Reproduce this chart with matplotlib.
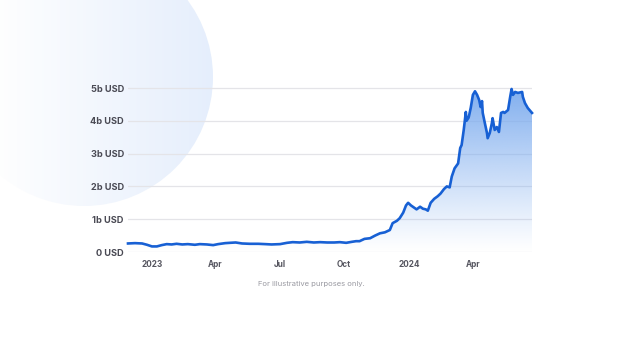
import numpy as np
import pandas as pd
import matplotlib
matplotlib.use("Agg")
import matplotlib.pyplot as plt
import matplotlib.dates as mdates
from matplotlib.patches import Circle, Polygon

plt.rcParams['font.family'] = ['Inter', 'DejaVu Sans']

dates = [
    "2022-11-28", "2022-12-08", "2022-12-18", "2022-12-25", "2023-01-01", "2023-01-08",
    "2023-01-15", "2023-01-22", "2023-01-29", "2023-02-05", "2023-02-13", "2023-02-21",
    "2023-03-03", "2023-03-10", "2023-03-20", "2023-03-29", "2023-04-05", "2023-04-15",
    "2023-04-22", "2023-04-30", "2023-05-09", "2023-05-20", "2023-06-01", "2023-06-11",
    "2023-06-20", "2023-07-02", "2023-07-12", "2023-07-20", "2023-07-30", "2023-08-09",
    "2023-08-19", "2023-08-28", "2023-09-07", "2023-09-17", "2023-09-25", "2023-10-04",
    "2023-10-12", "2023-10-18", "2023-10-23", "2023-10-30", "2023-11-07", "2023-11-14",
    "2023-11-21", "2023-11-28", "2023-12-05", "2023-12-09", "2023-12-15", "2023-12-19",
    "2023-12-24", "2023-12-28", "2023-12-31", "2024-01-04", "2024-01-08", "2024-01-12",
    "2024-01-17", "2024-01-21", "2024-01-25", "2024-01-28", "2024-02-01", "2024-02-06",
    "2024-02-11", "2024-02-15", "2024-02-20", "2024-02-24", "2024-02-28", "2024-03-02",
    "2024-03-06", "2024-03-11", "2024-03-14", "2024-03-16", "2024-03-19", "2024-03-22",
    "2024-03-23", "2024-03-26", "2024-03-29", "2024-04-01", "2024-04-04", "2024-04-07",
    "2024-04-10", "2024-04-12", "2024-04-14", "2024-04-15", "2024-04-18", "2024-04-21",
    "2024-04-22", "2024-04-25", "2024-04-28", "2024-04-29", "2024-05-02", "2024-05-05",
    "2024-05-08", "2024-05-11", "2024-05-14", "2024-05-16", "2024-05-21", "2024-05-24",
    "2024-05-26", "2024-05-28", "2024-05-31", "2024-06-04", "2024-06-10", "2024-06-11",
    "2024-06-14", "2024-06-18", "2024-06-24",
]
values_b = [
    0.26, 0.27, 0.26, 0.22, 0.17, 0.17,
    0.21, 0.24, 0.23, 0.25, 0.23, 0.24,
    0.22, 0.24, 0.23, 0.21, 0.24, 0.27,
    0.28, 0.29, 0.26, 0.25, 0.25, 0.24,
    0.23, 0.24, 0.28, 0.30, 0.29, 0.31,
    0.29, 0.30, 0.29, 0.29, 0.30, 0.28,
    0.31, 0.33, 0.33, 0.40, 0.42, 0.50,
    0.57, 0.60, 0.67, 0.88, 0.95, 1.03,
    1.20, 1.42, 1.50, 1.42, 1.36, 1.30,
    1.38, 1.32, 1.30, 1.26, 1.50, 1.62,
    1.70, 1.78, 1.92, 2.00, 1.97, 2.30,
    2.55, 2.70, 3.17, 3.26, 3.72, 4.27,
    4.00, 4.10, 4.40, 4.79, 4.90, 4.79,
    4.63, 4.42, 4.60, 4.24, 3.93, 3.63,
    3.47, 3.63, 3.93, 4.08, 3.72, 3.81,
    3.66, 4.24, 4.27, 4.24, 4.33, 4.73,
    4.97, 4.79, 4.88, 4.85, 4.88, 4.73,
    4.54, 4.39, 4.24,
]
y_ticks = [0, 1, 2, 3, 4, 5]
y_tick_labels = ["0 USD", "1b USD", "2b USD", "3b USD", "4b USD", "5b USD"]
x_ticks = ["2023-01-01", "2023-04-01", "2023-07-01", "2023-10-01", "2024-01-01", "2024-04-01"]
x_tick_labels = ["2023", "Apr", "Jul", "Oct", "2024", "Apr"]
footer = "For illustrative purposes only."

W, H = 624, 351
fig = plt.figure(figsize=(W / 100, H / 100), dpi=100)
fig.patch.set_facecolor("white")

# background decorative circle
bg = fig.add_axes([0, 0, 1, 1], zorder=0)
bg.set_xlim(0, W)
bg.set_ylim(H, 0)
bg.axis("off")
xx = np.linspace(0, W, 400)
grad = np.clip((xx + 10) / 225.0, 0, 1)
c0 = np.array([1.0, 1.0, 1.0])
c1 = np.array([229, 238, 252]) / 255.0
img = (c0[None, :] * (1 - grad[:, None]) + c1[None, :] * grad[:, None])
img = np.tile(img[None, :, :], (50, 1, 1))
im = bg.imshow(img, extent=[0, W, H, 0], aspect="auto", zorder=0)
circ = Circle((84, 77), 129, transform=bg.transData, facecolor="none", edgecolor="none")
bg.add_patch(circ)
im.set_clip_path(circ)

# main chart
ax = fig.add_axes([128 / W, 99 / H, 404 / W, 5.3 * 32.8 / H], zorder=1)
ax.patch.set_alpha(0)
d = pd.to_datetime(dates)
xnum = mdates.date2num(d)
v = np.array(values_b)

ax.set_xlim(xnum[0], xnum[-1])
ax.set_ylim(0, 5.3)

# gradient fill
ny = 256
yy = np.linspace(0, 5.3, ny)
t = np.clip(yy / 5.0, 0, 1)
top = np.array([122, 170, 238]) / 255.0
rgba = np.zeros((ny, 2, 4))
rgba[:, :, :3] = top
rgba[:, :, 3] = (t ** 1.1)[:, None] * 0.95
gim = ax.imshow(rgba, extent=[xnum[0], xnum[-1], 0, 5.3], origin="lower",
                aspect="auto", zorder=1, interpolation="bilinear")
poly_pts = np.column_stack([np.r_[xnum[0], xnum, xnum[-1]], np.r_[0, v, 0]])
poly = Polygon(poly_pts, closed=True, facecolor="none", edgecolor="none", transform=ax.transData)
ax.add_patch(poly)
gim.set_clip_path(poly)

ax.plot(xnum, v, color="#1760d4", lw=1.9, zorder=3, solid_joinstyle="round", clip_on=False)

for yt in y_ticks:
    ax.axhline(yt, color="#e4e4e8", lw=0.9, zorder=0.5)

for s in ax.spines.values():
    s.set_visible(False)
ax.set_yticks(y_ticks)
ax.set_yticklabels(y_tick_labels, fontsize=6.6, color="#4a4a54", fontweight="bold")
ax.set_xticks(mdates.date2num(pd.to_datetime(x_ticks)))
ax.set_xticklabels(x_tick_labels, fontsize=5.9, color="#55555f", fontweight="bold")
ax.tick_params(axis="both", length=0)
ax.tick_params(axis="y", pad=3)
ax.tick_params(axis="x", pad=6)

fig.text(311 / W, 1 - 284 / H, footer, ha="center", va="center", fontsize=5.5, color="#9a9aa2")

fig.savefig("out.png", dpi=100, facecolor="white")
